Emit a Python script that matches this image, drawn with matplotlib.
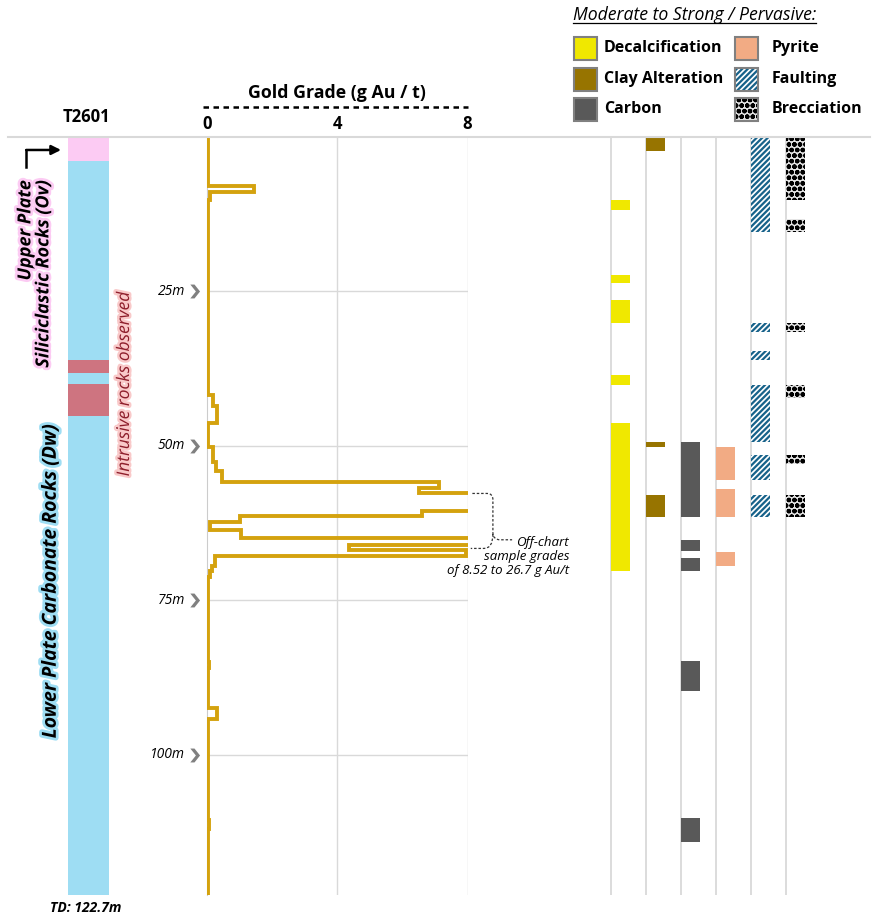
import numpy as np
import matplotlib
matplotlib.use("Agg")
import matplotlib.pyplot as plt
import matplotlib.patheffects as pe
from matplotlib.patches import Rectangle, PathPatch
from matplotlib.path import Path
from matplotlib.lines import Line2D
from matplotlib.transforms import Affine2D

W, H = 877, 919
TD = 122.7

# Lithology log (depth in m)
lith_top = [0, 3.9, 36.1, 38.2, 40.0, 45.1]
lith_bot = [3.9, 36.1, 38.2, 40.0, 45.1, TD]
lith_unit = ["Ov", "Dw", "Intrusive", "Dw", "Intrusive", "Dw"]
lith_colors = {"Ov": "#FCCBF3", "Dw": "#9EDDF3", "Intrusive": "#CE7480"}

# Gold assays: interval tops (m) and grade (g Au/t)
gold_top = [0, 8.0, 8.9, 10.2, 41.8, 43.6, 46.3, 50.2, 52.6, 54.0, 55.8, 56.8,
            57.7, 59.2, 60.6, 61.4, 62.3, 63.6, 64.9, 66.0, 66.9, 67.9, 69.4,
            70.3, 71.2, 85.0, 86.0, 92.5, 94.2, 110.5, 112.0]
gold_grade = [0.02, 1.45, 0.1, 0.02, 0.17, 0.32, 0.03, 0.17, 0.28, 0.45, 7.12, 6.5,
              12.4, 8.52, 6.6, 1.0, 0.1, 1.05, 26.7, 4.35, 7.95, 0.25, 0.15,
              0.08, 0.02, 0.05, 0.02, 0.3, 0.02, 0.05, 0.02]
gold_bot = gold_top[1:] + [TD]

depth_ticks = [25, 50, 75, 100]
grade_ticks = [0, 4, 8]

# Alteration / structure intervals (top, bottom)
decal = [(10.2, 11.8), (22.4, 23.6), (26.4, 30.1), (38.6, 40.2), (46.3, 70.3)]
clay = [(0, 2.2), (49.3, 50.2), (57.9, 61.5)]
carbon = [(49.3, 61.5), (65.2, 67.0), (68.1, 70.3), (84.9, 89.6), (110.2, 114.1)]
pyrite = [(50.2, 55.6), (56.9, 61.5), (67.1, 69.4)]
fault = [(0, 15.3), (30.1, 31.6), (34.7, 36.1), (40.2, 49.4), (51.5, 55.6), (57.9, 61.5)]
breccia = [(0, 10.2), (13.3, 15.3), (30.1, 31.6), (40.2, 42.3), (51.5, 53.0), (57.9, 61.5)]

alt_names = ["Decalcification", "Clay Alteration", "Carbon", "Pyrite", "Faulting", "Brecciation"]
alt_data = [decal, clay, carbon, pyrite, fault, breccia]
alt_style = [
    dict(color="#F0E800"),
    dict(color="#977400"),
    dict(color="#595959"),
    dict(color="#F2AB84"),
    dict(facecolor="white", edgecolor="#17628A", hatch="//////"),
    dict(facecolor="#E4E4E4", edgecolor="black", hatch="ooo"),
]

plt.rcParams['font.family'] = ['Open Sans', 'DejaVu Sans']
plt.rcParams['hatch.linewidth'] = 1.6
grid_c = "#d9d9d9"

fig = plt.figure(figsize=(W / 100, H / 100), dpi=100)
px = Affine2D().scale(1 / W, -1 / H).translate(0, 1) + fig.transFigure


def add_px_axes(x0, y0, x1, y1):
    return fig.add_axes([x0 / W, 1 - y1 / H, (x1 - x0) / W, (y1 - y0) / H])


TOP, BOT = 137, 895

# ---- lithology column
ax_l = add_px_axes(68, TOP, 109, BOT)
for t, b, u in zip(lith_top, lith_bot, lith_unit):
    ax_l.barh(t, 1, height=b - t, left=0, align='edge', color=lith_colors[u], lw=0)
ax_l.set_xlim(0, 1)
ax_l.set_ylim(TD, 0)
ax_l.axis('off')
ytr = ax_l.get_yaxis_transform()

ax_l.text(0.45, -2.4, "T2601", transform=ytr, ha='center', va='baseline',
          fontsize=12, fontweight='bold')
ax_l.text(0.42, TD + 2.75, "TD: 122.7m", transform=ytr, ha='center', va='baseline',
          fontsize=10, fontweight='bold', style='italic')

ax_l.text(-0.82, 7.0, "Upper Plate\nSiliciclastic Rocks (Ov)", transform=ytr,
          rotation=90, ha='center', va='top', multialignment='right',
          fontsize=13, fontweight='bold', style='italic', linespacing=1.0,
          path_effects=[pe.withStroke(linewidth=4, foreground=lith_colors["Ov"])])
ax_l.text(-0.42, 71.8, "Lower Plate Carbonate Rocks (Dw)", transform=ytr,
          rotation=90, ha='center', va='center',
          fontsize=14, fontweight='bold', style='italic',
          path_effects=[pe.withStroke(linewidth=4, foreground=lith_colors["Dw"])])
ax_l.text(1.39, 40.0, "Intrusive rocks observed", transform=ytr,
          rotation=90, ha='center', va='center', fontsize=12.5, style='italic',
          color="#8E1F2C",
          path_effects=[pe.withStroke(linewidth=3.5, foreground="#F9C9C9")])

# start-of-hole arrow
ax_l.plot([-1.02, -1.02], [4.9, 2.1], transform=ytr, color='black', lw=1.8,
          clip_on=False, solid_capstyle='projecting')
ax_l.annotate('', xy=(-0.17, 2.1), xytext=(-1.02, 2.1), xycoords=ytr, textcoords=ytr,
              arrowprops=dict(arrowstyle='-|>', lw=1.8, color='black',
                              mutation_scale=14, shrinkA=0, shrinkB=0))

# ---- gold grade
ax_g = add_px_axes(207, TOP, 467.5, BOT)
ax_g.set_xlim(0, 8)
ax_g.set_ylim(TD, 0)
for s in ['top', 'right', 'bottom']:
    ax_g.spines[s].set_visible(False)
ax_g.spines['left'].set_color('#cccccc')
ax_g.set_yticks([])
ax_g.xaxis.tick_top()
ax_g.set_xticks(grade_ticks)
ax_g.tick_params(axis='x', length=0, pad=3, labelsize=12)
for lbl in ax_g.get_xticklabels():
    lbl.set_fontweight('bold')
for x in grade_ticks[1:]:
    ax_g.axvline(x, color=grid_c, lw=1, zorder=0)
for d in depth_ticks:
    ax_g.axhline(d, color=grid_c, lw=1, zorder=0)

ax_g.plot([-0.015, 1.002], [1.0396, 1.0396], transform=ax_g.transAxes, color='black',
          lw=1.8, dashes=(2.2, 1.8), clip_on=False)
ax_g.text(0.5, 1.0508, "Gold Grade (g Au / t)", transform=ax_g.transAxes,
          ha='center', va='baseline', fontsize=12.8, fontweight='bold')

chevron = [(-0.6, 1), (0.0, 1), (0.8, 0), (0.0, -1), (-0.6, -1), (0.2, 0), (-0.6, 1)]
for d in depth_ticks:
    ax_g.text(-0.67, d, f"{d}m", ha='right', va='center', style='italic',
              fontsize=10, clip_on=False)
ax_g.plot([-0.40] * len(depth_ticks), depth_ticks, ls='none', marker=chevron, ms=10,
          color='#808080', mec='none', clip_on=False)

gx = np.repeat(gold_grade, 2)
gy = np.column_stack([gold_top, gold_bot]).ravel()
ax_g.plot(gx, gy, color='#D4A20E', lw=2.8, solid_joinstyle='miter', zorder=3)

# off-chart brace
yt, yb, ytip = 57.7, 66.6, 65.2
verts = [(8.15, yt), (8.6, yt), (8.78, yt), (8.78, yt + 1.0), (8.78, ytip - 1.2),
         (8.78, ytip), (9.0, ytip), (9.37, ytip),
         (8.78, ytip - 0.9), (8.78, yb), (8.5, yb), (8.1, yb)]
codes = [Path.MOVETO, Path.LINETO, Path.CURVE3, Path.CURVE3, Path.LINETO,
         Path.CURVE3, Path.CURVE3, Path.LINETO,
         Path.MOVETO, Path.CURVE3, Path.CURVE3, Path.LINETO]
ax_g.add_patch(PathPatch(Path(verts, codes), fill=False, ec='#333333', lw=0.9,
                         ls=(0, (2, 1.5)), clip_on=False))
ax_g.text(11.12, 64.6, "Off-chart\nsample grades\nof 8.52 to 26.7 g Au/t",
          ha='right', va='top', style='italic', fontsize=9.5, linespacing=1.12,
          clip_on=False)

# ---- alteration columns
ax_a = add_px_axes(575.7, TOP, 820.7, BOT)
ax_a.set_xlim(-1, 6)
ax_a.set_ylim(TD, 0)
ax_a.axis('off')
for i in range(len(alt_names)):
    ax_a.axvline(i, color=grid_c, lw=1.3, zorder=0)
    tops = [t for t, b in alt_data[i]]
    hts = [b - t for t, b in alt_data[i]]
    ax_a.barh(tops, 0.543, height=hts, left=i, align='edge', lw=0, zorder=2,
              **alt_style[i])

# top rule across the log
fig.add_artist(Line2D([8, 870], [TOP, TOP], transform=px, color=grid_c, lw=1.5, zorder=5))

# ---- legend
head = fig.text(572.7, 20.5, "Moderate to Strong / Pervasive:", transform=px,
                ha='left', va='baseline', style='italic', fontsize=12.7)
fig.canvas.draw()
bb = head.get_window_extent()
fig.add_artist(Line2D([bb.x0 / W, bb.x1 / W], [1 - 23.0 / H, 1 - 23.0 / H],
                      transform=fig.transFigure, color='black', lw=0.9))

leg_x = [574, 735]
leg_y = [37, 67.5, 97.5]
for k, name in enumerate(alt_names):
    cx = leg_x[k // 3]
    cy = leg_y[k % 3]
    st = dict(alt_style[k])
    fc = st.pop('color', st.pop('facecolor', None))
    ec_h = st.pop('edgecolor', None)
    if ec_h is not None:
        fig.add_artist(Rectangle((cx, cy), 23, 23, transform=px, facecolor=fc,
                                 edgecolor=ec_h, lw=0, hatch=st.get('hatch')))
        fig.add_artist(Rectangle((cx, cy), 23, 23, transform=px, fill=False,
                                 edgecolor='#808080', lw=1.5))
    else:
        fig.add_artist(Rectangle((cx, cy), 23, 23, transform=px, facecolor=fc,
                                 edgecolor='#808080', lw=1.5))
    fig.text(cx + 30 if k < 3 else cx + 37, cy + 11.5, name, transform=px,
             ha='left', va='center', fontsize=11.5, fontweight='bold')

fig.savefig("out.png", dpi=100)
